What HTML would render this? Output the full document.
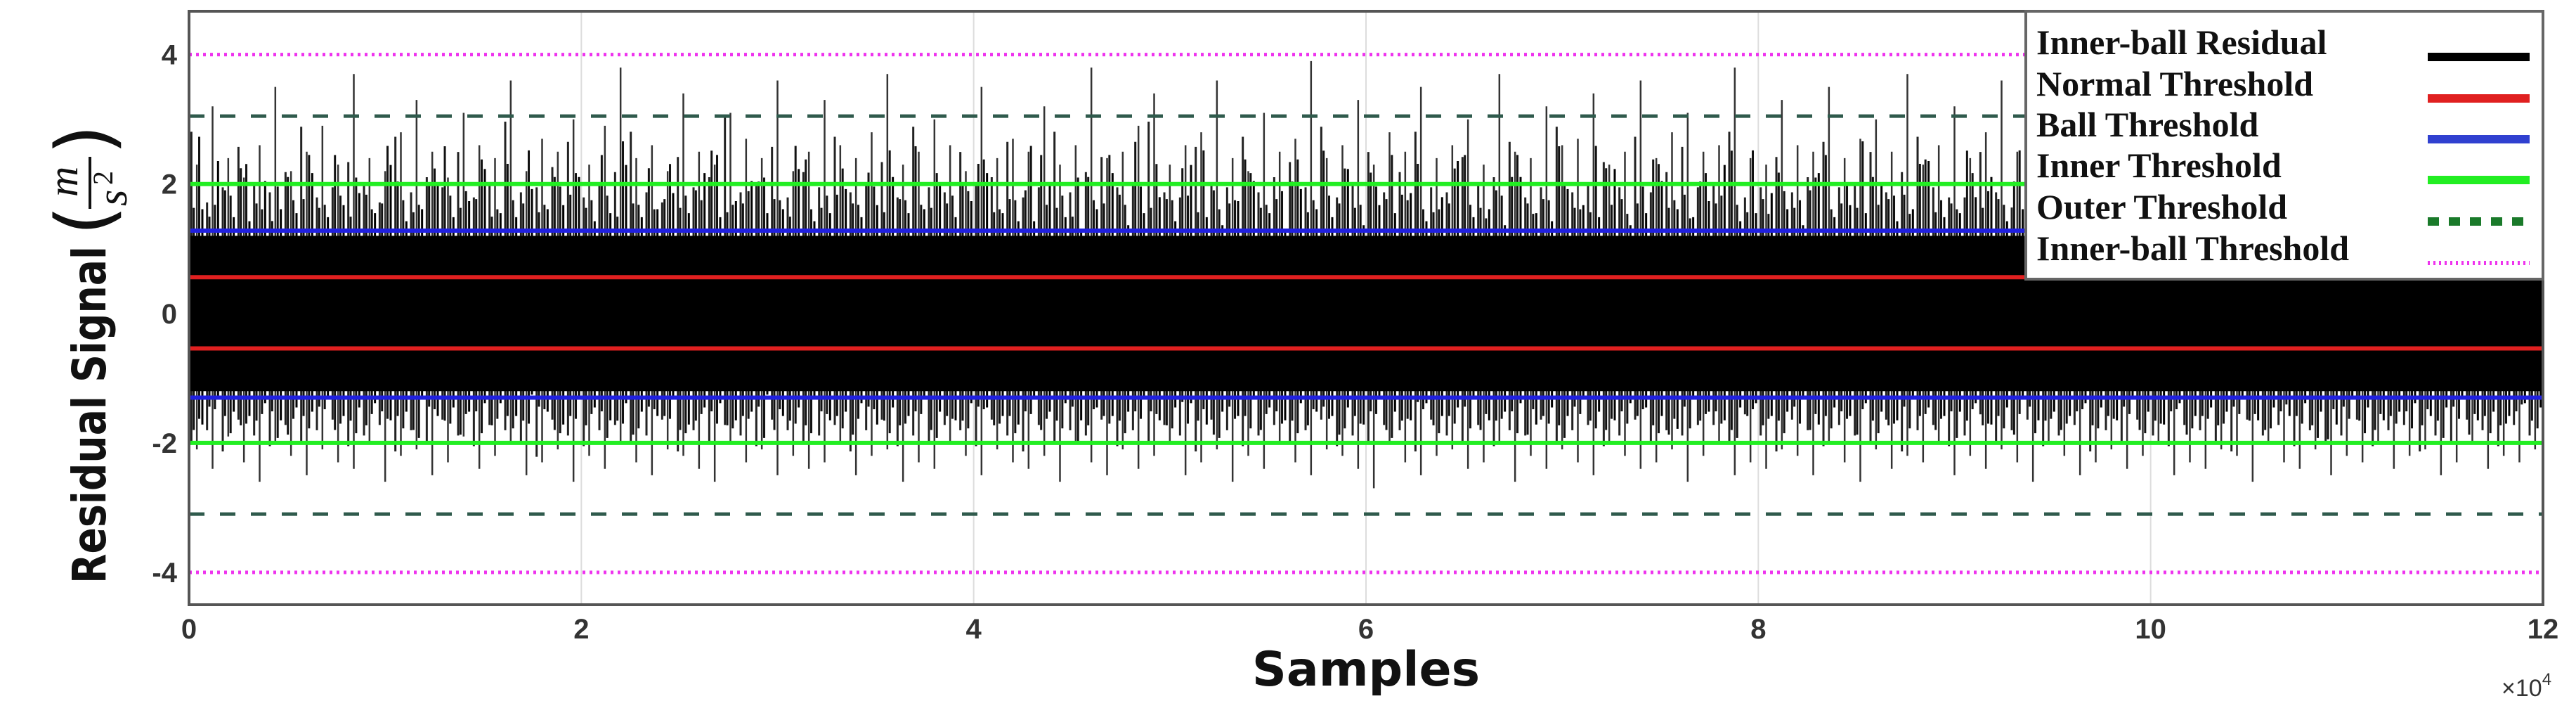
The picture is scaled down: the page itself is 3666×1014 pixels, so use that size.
<!DOCTYPE html>
<html><head><meta charset="utf-8"><style>html,body{margin:0;padding:0;background:#fff}svg{display:block}</style></head>
<body>
<svg id="chart" xmlns="http://www.w3.org/2000/svg" width="3666" height="1014" viewBox="0 0 3666 1014">
<rect width="3666" height="1014" fill="#fff"/>
<g id="grid"></g>
<g id="signal"></g>
<g id="thresholds"></g>
<rect x="269" y="16" width="3350" height="844" fill="none" stroke="#555" stroke-width="4"/>
<g id="yticks" font-family="Liberation Sans, sans-serif" font-weight="bold" font-size="40" fill="#333" text-anchor="end"></g>
<g id="xticks" font-family="Liberation Sans, sans-serif" font-weight="bold" font-size="40" fill="#333" text-anchor="middle"></g>
<text x="1944" y="975" font-family="DejaVu Sans, sans-serif" font-weight="bold" font-size="68" text-anchor="middle" fill="#111">Samples</text>
<text x="3560" y="990" font-family="Liberation Sans, sans-serif" font-size="34" fill="#333">×10<tspan dy="-16" font-size="24">4</tspan></text>
<g transform="translate(150,450) rotate(-90)">
 <text x="-140" y="0" font-family="DejaVu Sans, sans-serif" font-weight="bold" font-size="66" text-anchor="middle" textLength="480" lengthAdjust="spacingAndGlyphs" fill="#111">Residual Signal</text>
 <text x="115" y="8" font-family="DejaVu Sans, sans-serif" font-size="110" fill="#111">(</text>
 <text x="170" y="-40" font-family="Liberation Serif, serif" font-style="italic" font-size="60" fill="#111">m</text>
 <line x1="153" y1="-22" x2="227" y2="-22" stroke="#111" stroke-width="4"/>
 <text x="157" y="30" font-family="Liberation Serif, serif" font-style="italic" font-size="60" fill="#111">s</text>
 <text x="187" y="10" font-family="Liberation Serif, serif" font-size="40" fill="#111">2</text>
 <text x="230" y="8" font-family="DejaVu Sans, sans-serif" font-size="110" fill="#111">)</text>
</g>
<g id="legend">
 <rect x="2883" y="16" width="736" height="381" fill="#fff" stroke="#666" stroke-width="4"/>
</g>
</svg>
<script>
const xTicks=[0,2,4,6,8,10,12];
const yTicks=[4,2,0,-2,-4];
const xMin=0,xMax=12,yMin=-4.5,yMax=4.67;
const thresholdNames=["Normal","Ball","Inner","Outer","Inner-ball"];
const thresholdValues=[0.56,1.28,2.0,3.05,4.0];
const thresholdLowValues=[-0.54,-1.3,-2.0,-3.1,-4.0];
const coreHigh=[1.2];
const coreLow=[-1.2];
const upperPeaks=[2.3,3.2,2.4,2.1,2.6,3.5,2.2,2.5,2.9,2.3,3.7,2.4,2.2,2.8,3.3,2.5,2.1,3.1,2.6,2.4,
3.6,2.2,2.7,2.5,3.0,2.3,2.9,3.8,2.4,2.6,2.2,3.4,2.5,2.3,3.1,2.7,2.4,3.6,2.2,2.5,
3.3,2.6,2.4,2.8,3.7,2.3,2.5,3.0,2.6,2.2,3.5,2.4,2.7,2.5,3.2,2.3,2.6,3.8,2.4,2.5,
2.9,3.4,2.3,2.6,2.8,3.6,2.4,2.2,3.1,2.5,2.7,3.9,2.4,2.6,3.3,2.3,2.8,2.5,3.5,2.4,
2.6,3.0,2.3,3.7,2.5,2.4,3.2,2.6,2.7,3.4,2.3,2.5,3.6,2.4,2.8,3.1,2.5,2.6,3.8,2.4,
2.3,3.3,2.6,2.5,3.5,2.4,2.7,3.0,2.5,3.7,2.3,2.6,3.2,2.4,2.8,3.6,2.5,2.4,3.1,2.6,
2.7,3.4,2.3,2.5,3.7,2.4,2.6,3.0,2.5,3.5,2.4,2.8,3.3,2.5,2.6,3.6,2.3,2.5,3.1,2.4,
2.7,3.4,2.5,2.6,3.2,2.4,2.8,3.5,2.5,2.3];
const lowerPeaks=[-2.1,-2.4,-1.9,-2.3,-2.6,-2.0,-2.2,-2.5,-2.1,-2.3,-2.4,-2.0,-2.6,-2.2,-2.1,-2.5,-2.3,-1.9,-2.4,-2.2,
-2.0,-2.5,-2.3,-2.1,-2.6,-2.2,-2.4,-2.0,-2.3,-2.5,-2.1,-2.2,-2.4,-2.6,-2.0,-2.3,-2.1,-2.5,-2.2,-2.4,
-2.3,-2.0,-2.5,-2.2,-2.1,-2.6,-2.3,-2.4,-2.0,-2.2,-2.5,-2.1,-2.3,-2.4,-2.2,-2.6,-2.0,-2.3,-2.5,-2.1,
-2.4,-2.2,-2.0,-2.5,-2.3,-2.1,-2.6,-2.2,-2.4,-2.0,-2.3,-2.5,-2.1,-2.2,-2.4,-2.7,-2.0,-2.3,-2.5,-2.2,
-2.1,-2.4,-2.3,-2.0,-2.6,-2.2,-2.4,-2.1,-2.3,-2.5,-2.0,-2.2,-2.4,-2.3,-2.1,-2.6,-2.2,-2.0,-2.5,-2.3,
-2.4,-2.1,-2.2,-2.5,-2.0,-2.3,-2.6,-2.1,-2.4,-2.2,-2.3,-2.0,-2.5,-2.2,-2.4,-2.1,-2.3,-2.6,-2.0,-2.2,
-2.5,-2.3,-2.1,-2.4,-2.2,-2.0,-2.5,-2.3,-2.4,-2.1,-2.2,-2.6,-2.0,-2.3,-2.4,-2.1,-2.5,-2.2,-2.3,-2.0,
-2.4,-2.2,-2.1,-2.5,-2.3,-2.0,-2.4,-2.2,-2.3,-2.1];
const legendLabels=["Inner-ball Residual","Normal Threshold","Ball Threshold","Inner Threshold","Outer Threshold","Inner-ball Threshold"];
const NS="http://www.w3.org/2000/svg";
const L=269,R=3619,T=16,B=860;
const xs=v=>L+(v-xMin)/(xMax-xMin)*(R-L);
const ys=v=>T+(yMax-v)/(yMax-yMin)*(B-T);
function mk(tag,attrs,parent){const e=document.createElementNS(NS,tag);for(const k in attrs)e.setAttribute(k,attrs[k]);parent.appendChild(e);return e;}
const grid=document.getElementById('grid');
xTicks.forEach(t=>{const ln=mk('line',{x1:xs(t),x2:xs(t),y1:T,y2:B,stroke:'#ddd','stroke-width':2},grid);

});
const xt=document.getElementById('xticks');
xTicks.forEach(t=>{const tx=mk('text',{x:xs(t),y:908},xt);tx.textContent=t;

});
const yt=document.getElementById('yticks');
yTicks.forEach(t=>{const tx=mk('text',{x:252,y:ys(t)+14},yt);tx.textContent=t;

});
const sig=document.getElementById('signal');
const n=upperPeaks.length;
const offsets=[[0.5,0,0,1,1,'#333',2.5],[0.15,37,53,0.78,0.82,'#222',3],[0.3,11,89,0.68,0.72,'#111',3],[0.65,71,19,0.7,0.74,'#111',3],[0.85,97,131,0.62,0.66,'#000',3]];
for(let i=0;i<n;i++){
 offsets.forEach(o=>{
  const x=xs(xMin+(i+o[0])/n*(xMax-xMin));
  const ln=mk('line',{x1:x,x2:x,y1:ys(upperPeaks[(i+o[1])%n]*o[3]),y2:ys(lowerPeaks[(i+o[2])%n]*o[4]),stroke:o[5],'stroke-width':o[6]},sig);
  
  
 });
}
const core=mk('rect',{x:L,y:ys(coreHigh[0]),width:R-L,height:ys(coreLow[0])-ys(coreHigh[0]),fill:'#000'},sig);


const styles=[{c:'#e02020',w:6,d:''},{c:'#2020e0',w:6,d:''},{c:'#22ee22',w:6,d:''},{c:'#2f5a4c',w:5,d:'22 22'},{c:'#ee33ee',w:5,d:'4 6'}];
const th=document.getElementById('thresholds');
thresholdValues.forEach((v,i)=>{
 [v,thresholdLowValues[i]].forEach(val=>{
  const ln=mk('line',{x1:L,x2:R,y1:ys(val),y2:ys(val),stroke:styles[i].c,'stroke-width':styles[i].w},th);
  if(styles[i].d)ln.setAttribute('stroke-dasharray',styles[i].d);
  
  
 });
});
const lg=document.getElementById('legend');
const lgStyles=[{c:'#000',w:12,d:''},{c:'#e02020',w:12,d:''},{c:'#3040d0',w:12,d:''},{c:'#22ee22',w:12,d:''},{c:'#1a7a2a',w:12,d:'16 14'},{c:'#ee33ee',w:6,d:'3 5'}];
const rowsY=[63,122,180,238,297,356];
legendLabels.forEach((lab,i)=>{
 const g=mk('g',{},lg);
 
 
 const tx=mk('text',{x:2898,y:rowsY[i]+14,'font-family':'Liberation Serif, serif','font-weight':'bold','font-size':50,fill:'#111'},g);
 tx.textContent=lab;
 const ln=mk('line',{x1:3455,x2:3600,y1:rowsY[i]+18,y2:rowsY[i]+18,stroke:lgStyles[i].c,'stroke-width':lgStyles[i].w},g);
 if(lgStyles[i].d)ln.setAttribute('stroke-dasharray',lgStyles[i].d);
});
</script>
</body></html>
